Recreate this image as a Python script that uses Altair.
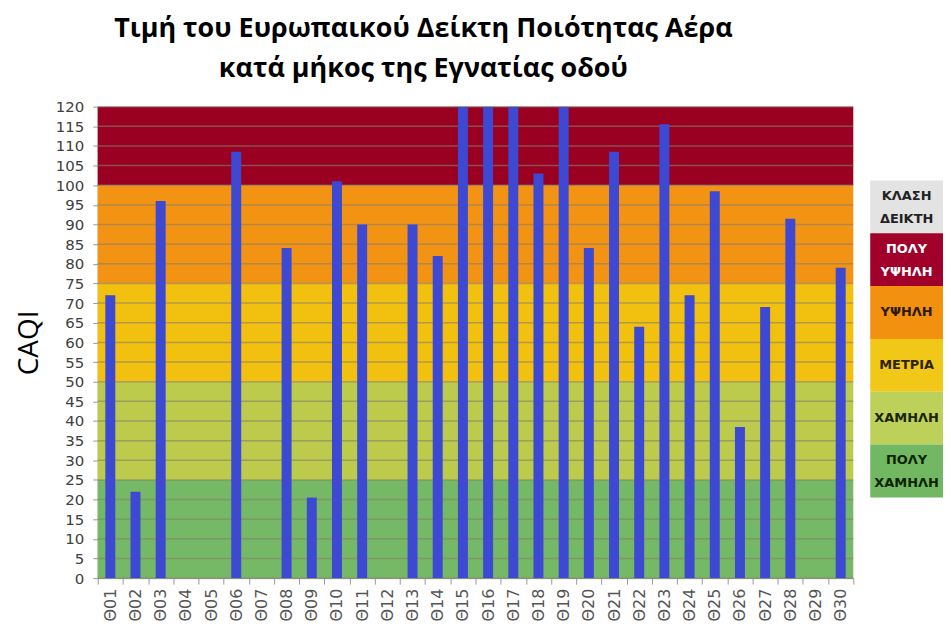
import altair as alt
import pandas as pd

# ---------------- data ----------------
stations = [f"Θ{i:02d}" for i in range(1, 31)]
caqi = [72, 22, 96, 0, 0, 108.5, 0, 84, 20.5, 101,
        90, 0, 90, 82, 120, 120, 120, 103, 120, 84,
        108.5, 64, 115.5, 72, 98.5, 38.5, 69, 91.5, 0, 79]

band_names = ["ΠΟΛΥ ΧΑΜΗΛΗ", "ΧΑΜΗΛΗ", "ΜΕΤΡΙΑ", "ΥΨΗΛΗ", "ΠΟΛΥ ΥΨΗΛΗ"]
band_lo = [0, 25, 50, 75, 100]
band_hi = [25, 50, 75, 100, 120]
band_colors = ["#75b866", "#bccb4c", "#f2c10f", "#f39314", "#9a0021"]

y_ticks = [0, 5, 10, 15, 20, 25, 30, 35, 40, 45, 50, 55, 60,
           65, 70, 75, 80, 85, 90, 95, 100, 105, 110, 115, 120]

legend_keys = ["ΚΛΑΣΗ ΔΕΙΚΤΗ", "ΠΟΛΥ ΥΨΗΛΗ", "ΥΨΗΛΗ", "ΜΕΤΡΙΑ", "ΧΑΜΗΛΗ", "ΠΟΛΥ ΧΑΜΗΛΗ"]
legend_top = ["ΚΛΑΣΗ", "ΠΟΛΥ", "", "", "", "ΠΟΛΥ"]
legend_bottom = ["ΔΕΙΚΤΗ", "ΥΨΗΛΗ", "", "", "", "ΧΑΜΗΛΗ"]
legend_single = ["", "", "ΥΨΗΛΗ", "ΜΕΤΡΙΑ", "ΧΑΜΗΛΗ", ""]
legend_fill = ["#e3e3e3", "#a0002a", "#f2900f", "#f2c818", "#bcd05a", "#72b862"]
legend_txtcol = ["#222222", "#ffffff", "#2e1800", "#2e2200", "#1a2400", "#0e2400"]

title_lines = ["Τιμή του Ευρωπαικού Δείκτη Ποιότητας Αέρα", "κατά μήκος της Εγνατίας οδού"]

# ---------------- layout constants ----------------
W, H = 758, 473
LW = 73

bars_df = pd.DataFrame({"station": stations, "caqi": caqi})
bands_df = pd.DataFrame({"name": band_names, "lo": band_lo, "hi": band_hi})
grid_df = pd.DataFrame({"v": y_ticks})
leg_df = pd.DataFrame({"key": legend_keys, "top": legend_top,
                       "bottom": legend_bottom, "single": legend_single})

yscale = alt.Scale(domain=[0, 120], nice=False, zero=True)
y_axis = alt.Axis(values=y_ticks, title="CAQI", titleFont="Open Sans", titleFontSize=28,
                  titleFontWeight="normal", titleColor="#000000", titlePadding=12,
                  labelFont="DejaVu Sans", labelFontSize=15, labelColor="#404040",
                  labelOverlap=False, labelFlush=False,
                  tickSize=5, tickColor="#9a9a9a", domainColor="#9a9a9a",
                  labelPadding=9, grid=False)

bands = alt.Chart(bands_df).mark_rect().encode(
    y=alt.Y("lo:Q", scale=yscale, axis=y_axis, title="CAQI"),
    y2="hi:Q",
    x=alt.value(0),
    x2=alt.value(W),
    color=alt.Color("name:N", scale=alt.Scale(domain=band_names, range=band_colors), legend=None),
)

grid = alt.Chart(grid_df).mark_rule(color="#85806a", opacity=0.6, strokeWidth=1.5).encode(
    y=alt.Y("v:Q", scale=yscale, axis=y_axis, title="CAQI"),
    x=alt.value(0),
    x2=alt.value(W),
)

bars = alt.Chart(bars_df).mark_bar(size=10, color="#3d49d2", clip=True).encode(
    x=alt.X("station:N", sort=stations,
            scale=alt.Scale(paddingInner=0, paddingOuter=0),
            axis=alt.Axis(title=None, labelAngle=270, labelFont="DejaVu Sans", labelFontSize=16,
                          labelColor="#555555", tickBand="extent", tickSize=6, tickColor="#9a9a9a",
                          domainColor="#9a9a9a", labelPadding=4)),
    y=alt.Y("caqi:Q", scale=yscale, axis=y_axis, title="CAQI"),
)

main = alt.layer(bands, grid, bars).properties(width=W, height=H)

leg_y = alt.Y("key:N", sort=legend_keys, axis=None,
              scale=alt.Scale(range=[74, 392], paddingInner=0, paddingOuter=0))
leg_col = alt.Color("key:N", scale=alt.Scale(domain=legend_keys, range=legend_txtcol), legend=None)

leg_rect = alt.Chart(leg_df).mark_rect().encode(
    y=leg_y,
    x=alt.value(0),
    x2=alt.value(LW),
    color=alt.Color("key:N", scale=alt.Scale(domain=legend_keys, range=legend_fill), legend=None),
)


def leg_txt(field, dy):
    return alt.Chart(leg_df).mark_text(font="DejaVu Sans", fontWeight="bold",
                                       fontSize=13, dy=dy).encode(
        y=leg_y, x=alt.value(LW / 2), text=f"{field}:N", color=leg_col)


legend = alt.layer(leg_rect, leg_txt("top", -11), leg_txt("bottom", 12), leg_txt("single", 0)) \
    .resolve_scale(color="independent").properties(width=LW, height=H)

chart = alt.hconcat(main, legend, spacing=16).resolve_scale(color="independent").properties(
    title=alt.TitleParams(text=title_lines, font="Open Sans", fontSize=27, fontWeight="bold",
                          color="#000000", lineHeight=40, anchor="middle", dx=-56, offset=17),
    padding={"left": 7, "top": 6, "right": 0, "bottom": 0},
).configure_view(stroke=None)

chart.save("out.html", embed_options={"renderer": "svg", "actions": False})
